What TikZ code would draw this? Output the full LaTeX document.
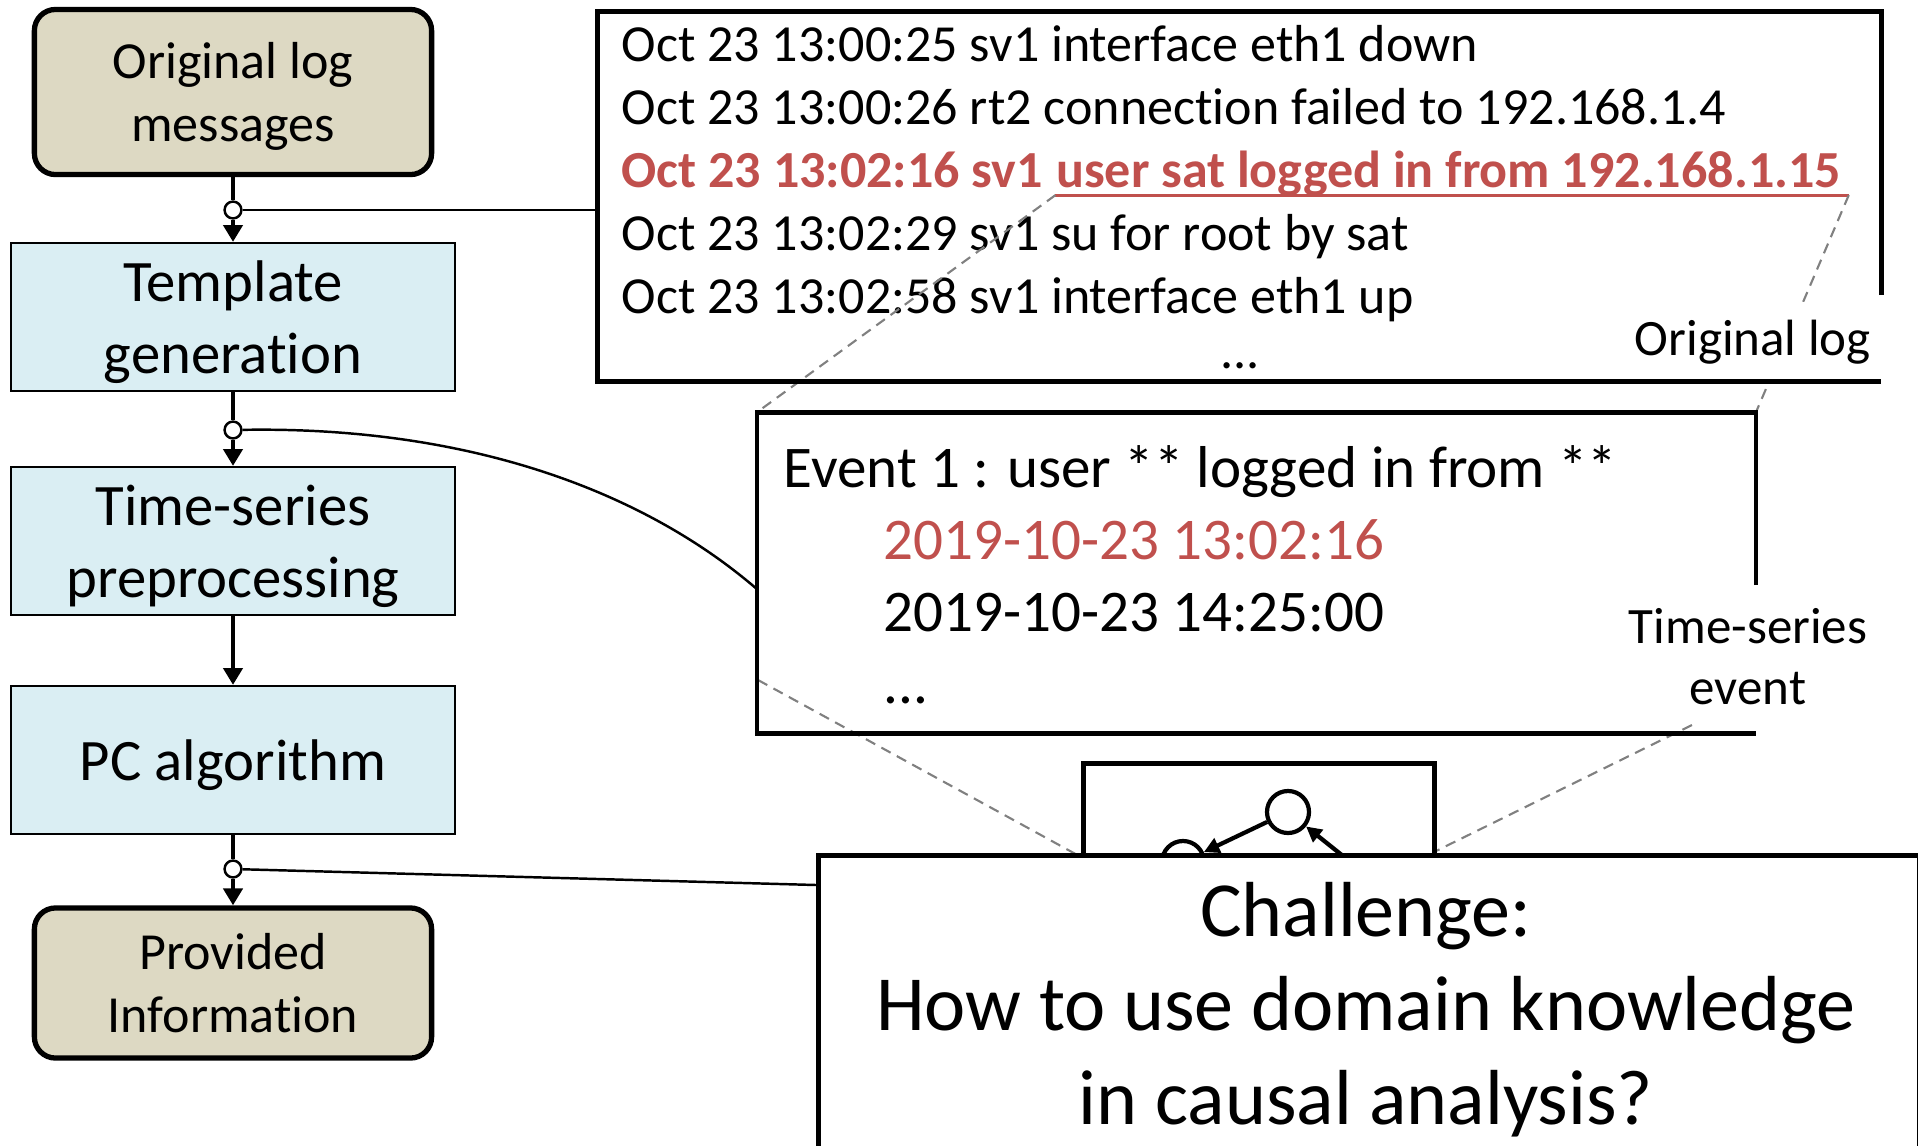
\documentclass[tikz,border=0pt]{standalone}
\usepackage{fontspec}
\setmainfont{Carlito}[Ligatures=NoCommon]
\usetikzlibrary{arrows.meta,positioning}

\definecolor{tanfill}{RGB}{221,217,195}
\definecolor{bluefill}{RGB}{218,238,243}
\definecolor{logred}{RGB}{192,80,77}
\definecolor{callgray}{RGB}{128,128,128}

\tikzset{
  tanbox/.style={draw, line width=1.5pt, rounded corners=6pt, fill=tanfill, minimum width=3.97cm, minimum height=1.65cm, align=center, text depth=0pt, font=\fontsize{14.8}{18.1}\selectfont},
  stepbox/.style={draw, line width=0.6pt, fill=bluefill, minimum width=4.43cm, minimum height=1.48cm, align=center, text depth=0pt, font=\fontsize{16.7}{20.5}\selectfont},
  junc/.style={circle, draw, fill=white, line width=0.7pt, inner sep=0pt, minimum size=4.8pt},
  flow/.style={line width=1.4pt},
  flowarrow/.style={flow, -{Triangle[width=5.4pt,length=4.8pt]}},
  link/.style={line width=0.7pt},
  frame/.style={line width=1.4pt},
  callout/.style={callgray, line width=0.6pt, dash pattern=on 3pt off 2pt},
  logline/.style={anchor=base west, inner sep=0pt, font=\fontsize{14.8}{18}\selectfont},
  redline/.style={logline, text=logred, font=\fontsize{14.8}{18}\selectfont\bfseries},
  evline/.style={anchor=base west, inner sep=0pt, font=\fontsize{16.8}{20.5}\selectfont},
  tag/.style={fill=white, align=center, inner xsep=3pt, inner ysep=5pt, font=\fontsize{14.5}{17.3}\selectfont},
  gnode/.style={circle, draw, line width=1.2pt, fill=white, inner sep=0pt, minimum size=0.42cm},
  garrow/.style={line width=1.2pt, -{Triangle[width=4.4pt,length=4.4pt]}}
}

\begin{document}
\begin{tikzpicture}[x=0.01cm, y=-0.01cm]
\useasboundingbox (0,0) rectangle (1918,1145);
\clip (0,0) rectangle (1918,1145);

% Left column: processing steps
\node[tanbox] (orig) at (233,92) {Original log\\messages};
\node[junc] (j1) at (233,210) {};
\node[stepbox] (tmpl) at (233,317) {Template\\generation};
\node[junc] (j2) at (233,430) {};
\node[stepbox] (tsprep) at (233,541) {Time-series\\preprocessing};
\node[stepbox] (pc) at (233,760) {PC algorithm};
\node[junc] (j3) at (233,869) {};
\node[tanbox, minimum height=1.5cm] (prov) at (233,983) {Provided\\Information};

\draw[flow] (orig) -- (j1);
\draw[flowarrow] (j1) -- (tmpl);
\draw[flow] (tmpl) -- (j2);
\draw[flowarrow] (j2) -- (tsprep);
\draw[flowarrow] (tsprep) -- (pc);
\draw[flow] (pc) -- (j3);
\draw[flowarrow] (j3) -- (prov);

% Original log
\node[minimum width=12.81cm, minimum height=3.69cm] (logframe) at (1239.5,196.5) {};
\node[logline] (l1) at (621,61) {Oct 23 13:00:25 sv1 interface eth1 down};
\node[logline] (l2) at (621,124) {Oct 23 13:00:26 rt2 connection failed to 192.168.1.4};
\node[redline] (l3) at (621,187) {Oct 23 13:02:16 sv1};
\node[redline] (l3u) at ([xshift=3.4pt]l3.base east) {user sat logged in from 192.168.1.15};
\node[logline] (l4) at (621,250) {Oct 23 13:02:29 sv1 su for root by sat};
\node[logline] (l5) at (621,313) {Oct 23 13:02:58 sv1 interface eth1 up};
\node[logline, anchor=base] (l6) at (1240,368) {...};
\coordinate (ul1) at ([yshift=-2.3pt]l3u.base west);
\coordinate (ul2) at ([xshift=2pt,yshift=-2.3pt]l3u.base east);
\draw[logred, line width=0.9pt] (ul1) -- (ul2);

% Time-series event
\node[minimum width=9.97cm, minimum height=3.2cm] (evframe) at (1256.5,573) {};
\node[evline] (e1) at (783,487) {Event 1 : user ** logged in from **};
\node[evline, text=logred] (e2) at (883,559) {2019-10-23 13:02:16};
\node[evline] (e3) at (883,631) {2019-10-23 14:25:00};
\node[evline] (e4) at (883,703) {...};

% zoom lines
\coordinate (evl) at (758,680);
\coordinate (evr) at (1755,694);
\coordinate (gbl) at (1081,857);
\coordinate (gbr) at (1432,853);
\draw[callout] (ul1) -- (evframe.north west);
\draw[callout] (ul2) -- (evframe.north east);
\draw[callout] (evl) -- (gbl);
\draw[callout] (evr) -- (gbr);

\node[tag, anchor=base east] (logtag) at (1882,355) {Original log};
\node[tag] (evtag) at (1748,657) {Time-series\\event};

\draw[frame] (logframe.north east |- 0,295) -- (logframe.north east) -- (logframe.north west) -- (logframe.south west) -- (logframe.south east);
\draw[frame] (evframe.north east |- 0,585) -- (evframe.north east) -- (evframe.north west) -- (evframe.south west) -- (evframe.south east);

% links from the steps
\coordinate (evin) at (758,590);
\coordinate (chin) at (816,885);
\draw[link] (j1) -- (j1 -| logframe.west);
\draw[link] (j2) .. controls (470,426) and (645,492) .. (evin);
\draw[link] (j3) -- (chin);

% causal graph
\node[draw, frame, fill=white, anchor=north west, minimum width=3.51cm, minimum height=2.5cm] (graphbox) at (1081,761) {};
\node[gnode] (g1) at (1288,812) {};
\node[gnode] (g2) at (1183,862) {};
\node[gnode] (g3) at (1393,896) {};
\draw[garrow] (g1) -- (g2);
\draw[garrow] (g3) -- (g1);

% Challenge
\node[draw, frame, fill=white, anchor=north west, minimum width=11cm, minimum height=4cm] (challbox) at (816,853) {};
\node[align=center, font=\fontsize{22.2}{26.7}\selectfont] (challtext) at (1366,1010) {Challenge:\\How to use domain knowledge\\in causal analysis?};
\end{tikzpicture}
\end{document}
